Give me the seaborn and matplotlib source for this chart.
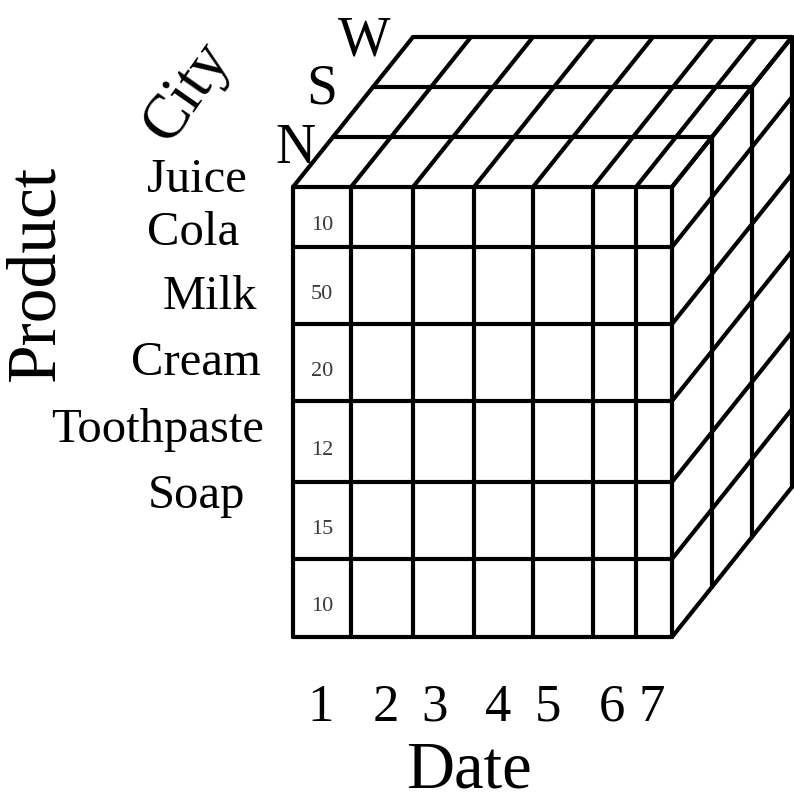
import matplotlib
matplotlib.use("Agg")
import matplotlib.pyplot as plt
import seaborn as sns
import pandas as pd

# ---------------- data ----------------
products = ["Juice", "Cola", "Milk", "Cream", "Toothpaste", "Soap"]
dates = ["1", "2", "3", "4", "5", "6", "7"]
cities = ["N", "S", "W"]
# sales shown for date 1, city N
values_date1_N = [10, 50, 20, 12, 15, 10]

# ---------------- layout (pixel-like coordinates) ----------------
col_edges = [293, 351, 413, 474, 533, 593, 636, 672]
row_edges = [188, 248, 325, 402, 483, 560, 638]
layer_dx, layer_dy = 40, -50          # shift per city layer
product_label_x = [197, 193, 210, 196, 158, 196]
product_label_base = [192, 245, 309, 375, 442, 508]
date_label_x = [321, 386, 434, 498, 548, 612, 652]
date_label_base = 721
city_label_x = [295, 322, 364]
city_label_base = [163, 103, 55]

sns.set_theme(style="white")
plt.rcParams["font.family"] = ["Liberation Serif", "DejaVu Serif"]

fig = plt.figure(figsize=(7.94, 8.04), dpi=100)
ax = fig.add_axes([0, 0, 1, 1])

top, bottom = row_edges[0], row_edges[-1]
left, right = col_edges[0], col_edges[-1]
nl = len(cities)

segs = []
def add(x0, y0, x1, y1):
    sid = len(segs) // 2
    segs.append({"seg": sid, "x": x0, "y": y0})
    segs.append({"seg": sid, "x": x1, "y": y1})

# front face grid
for x in col_edges:
    add(x, top, x, bottom)
for y in row_edges:
    add(left, y, right, y)
# top face
for k in range(1, nl + 1):
    add(left + k * layer_dx, top + k * layer_dy, right + k * layer_dx, top + k * layer_dy)
for x in col_edges:
    add(x, top, x + nl * layer_dx, top + nl * layer_dy)
# right face
for k in range(1, nl + 1):
    add(right + k * layer_dx, top + k * layer_dy, right + k * layer_dx, bottom + k * layer_dy)
for y in row_edges:
    add(right, y, right + nl * layer_dx, y + nl * layer_dy)

df = pd.DataFrame(segs)
sns.lineplot(data=df, x="x", y="y", units="seg", estimator=None, sort=False,
             color="black", lw=3, ax=ax, legend=False)

# cell values (first date column, front layer)
cx = (col_edges[0] + col_edges[1]) / 2
for i, v in enumerate(values_date1_N):
    cy = (row_edges[i] + row_edges[i + 1]) / 2 + 8
    ax.text(cx, cy, str(v), ha="center", va="center", fontsize=16, color="#3a3a3a")

# product labels
for name, x, yb in zip(products, product_label_x, product_label_base):
    ax.text(x, yb, name, ha="center", va="baseline", fontsize=35, color="black")

# date labels
for d, x in zip(dates, date_label_x):
    ax.text(x, date_label_base, d, ha="center", va="baseline", fontsize=38, color="black")

# city labels
for c, x, yb in zip(cities, city_label_x, city_label_base):
    ax.text(x, yb, c, ha="center", va="baseline", fontsize=40, color="black")

# axis titles
ax.text(37, 273, "Product", rotation=90, ha="center", va="center", fontsize=50, color="black")
ax.text(469, 802, "Date", ha="center", va="bottom", fontsize=48, color="black")
ax.text(188, 92, "City", rotation=55, ha="center", va="center", fontsize=45,
        color="black", rotation_mode="anchor")

ax.set_xlim(0, 794)
ax.set_ylim(804, 0)
ax.axis("off")

fig.savefig("out.png", dpi=100, facecolor="white")
